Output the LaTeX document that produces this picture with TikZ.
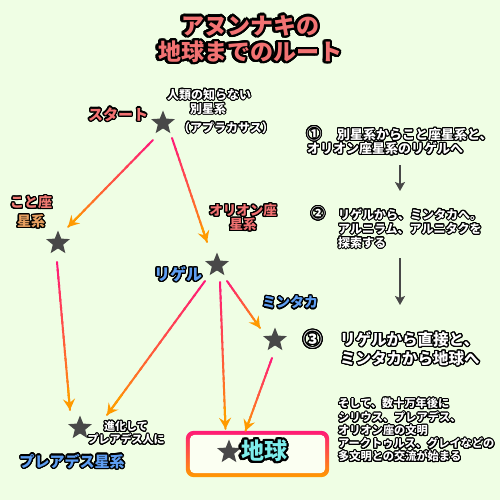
\documentclass[tikz,border=0pt]{standalone}
\usepackage{fontspec}
\setmainfont{Noto Sans CJK JP}
\usepackage{contour}
\contournumber{24}
\usetikzlibrary{shapes.geometric,arrows.meta,calc}
\definecolor{bg}{HTML}{EFFEE4}
\definecolor{apink}{HTML}{FF1A78}
\definecolor{aorange}{HTML}{FF9A00}
\definecolor{starc}{HTML}{484848}
\definecolor{salmon}{HTML}{F27272}
\definecolor{bluel}{HTML}{5E9EF2}
\definecolor{cyanl}{HTML}{7DEDEB}
\definecolor{kotoa}{HTML}{F07A72}
\definecolor{kotob}{HTML}{E8A060}
\definecolor{boxin}{HTML}{FBFFF2}
\newcommand\ol[2][1pt]{{\contourlength{#1}\contour{black}{#2}}}
\tikzset{
  starnode/.style={star, star points=5, star point ratio=2.3, fill=starc, minimum size=25pt, inner sep=0pt},
  lbl/.style={font=\bfseries\fontsize{#1pt}{#1pt}\selectfont, inner sep=0pt},
  wtxt/.style={lbl=#1, text=white},
  gseg/.style={line width=2pt, line cap=round},
  ghead/.style={line width=2pt, draw=aorange, fill=aorange, -{Stealth[length=11pt,width=12pt,inset=4pt]}},
  darr/.style={line width=2pt, draw=starc, -{Stealth[length=9pt,width=10pt,inset=2pt]}}
}
\newcommand\garrow[2]{%
  \foreach \i in {0,...,19}{%
    \pgfmathsetmacro\ta{\i/20}%
    \pgfmathsetmacro\tb{min(1,(\i+1.3)/20)}%
    \pgfmathtruncatemacro\pc{100-\i*5}%
    \draw[gseg, draw=apink!\pc!aorange] ($(#1)!\ta!(#2)$) -- ($(#1)!\tb!(#2)$);%
  }%
  \draw[ghead] ($(#1)!0.85!(#2)$) -- (#2);%
}
\begin{document}
\begin{tikzpicture}[x=1pt,y=-1pt]
\fill[bg] (0,0) rectangle (500,500);
\useasboundingbox (0,0) rectangle (500,500);

% title
\node[lbl=23, text=salmon] (title1) at (250,27) {\ol[2.4pt]{アヌンナキの}};
\node[lbl=23, text=salmon] (title2) at (250,53) {\ol[2.4pt]{地球までのルート}};

% stars
\node[starnode] (S) at (163,123) {};
\node[starnode] (K) at (58,243) {};
\node[starnode] (R) at (217,265) {};
\node[starnode] (M) at (275,340) {};
\node[starnode] (P) at (80,428) {};

% earth box
\node[minimum width=139pt, minimum height=42pt, inner sep=0pt] (earthbox) at (257.5,454) {};
\shade[top color=apink, bottom color=aorange, even odd rule]
  [rounded corners=8pt] ($(earthbox.north west)+(-2,-2)$) rectangle ($(earthbox.south east)+(2,2)$)
  [rounded corners=5pt] ($(earthbox.north west)+(2,2)$) rectangle ($(earthbox.south east)+(-2,-2)$);
\fill[boxin, rounded corners=5pt] ($(earthbox.north west)+(2,2)$) rectangle ($(earthbox.south east)+(-2,-2)$);
\node[starnode] (E) at (229,452) {};
\node[lbl=23, text=cyanl] (earthlbl) at (264,452) {\ol[2.2pt]{地球}};

% labels
\node[lbl=15, text=salmon] (start) at (118,115) {\ol[1.3pt]{スタート}};
\node[wtxt=12] (u1) at (209,95) {\ol{人類の知らない}};
\node[wtxt=12] (u2) at (208,109) {\ol{別星系}};
\node[wtxt=12] (u3) at (226,128) {\ol{（アプラカサス）}};
\node[lbl=14, text=kotoa] (koto1) at (31,203) {\ol[1.2pt]{こと座}};
\node[lbl=14, text=kotob] (koto2) at (31,222) {\ol[1.2pt]{星系}};
\node[lbl=13.5, text=salmon] (ori1) at (243,211) {\ol[1.2pt]{オリオン座}};
\node[lbl=13.5, text=salmon] (ori2) at (243,225) {\ol[1.2pt]{星系}};
\node[lbl=16, text=bluel] (rigel) at (178,275) {\ol[1.3pt]{リゲル}};
\node[lbl=14, text=bluel] (mintaka) at (290,303) {\ol[1.2pt]{ミンタカ}};
\node[wtxt=11] (sh1) at (126,427) {\ol{進化して}};
\node[wtxt=11] (sh2) at (126,440) {\ol{プレアデス人に}};
\node[lbl=15, text=bluel] (plei) at (72,462) {\ol[1.3pt]{プレアデス星系}};

% right column
\node[wtxt=15, anchor=center] (r1n) at (314,134) {\ol{①}};
\node[wtxt=13, anchor=west] (r1a) at (337,135) {\ol{別星系からこと座星系と、}};
\node[wtxt=13, anchor=west] (r1b) at (307,149) {\ol{オリオン座星系のリゲルへ}};
\node[wtxt=14, anchor=center] (r2n) at (318,214) {\ol{②}};
\node[wtxt=12, anchor=west] (r2a) at (338,215) {\ol{リゲルから、ミンタカへ。}};
\node[wtxt=12, anchor=west] (r2b) at (338,229) {\ol{アルニラム、アルニタクを}};
\node[wtxt=12, anchor=west] (r2c) at (338,243) {\ol{探索する}};
\node[wtxt=19, anchor=center] (r3n) at (313,340) {\ol[1.2pt]{③}};
\node[wtxt=15.5, anchor=west] (r3a) at (340,340) {\ol[1.2pt]{リゲルから直接と、}};
\node[wtxt=15.5, anchor=west] (r3b) at (340,359) {\ol[1.2pt]{ミンタカから地球へ}};
\node[wtxt=11.2, anchor=west] (b1) at (338,404) {\ol{そして、数十万年後に}};
\node[wtxt=11.2, anchor=west] (b2) at (338,418) {\ol{シリウス、プレアデス、}};
\node[wtxt=11.2, anchor=west] (b3) at (338,431) {\ol{オリオン座の文明}};
\node[wtxt=11.2, anchor=west] (b4) at (338,444) {\ol{アークトゥルス、グレイなどの}};
\node[wtxt=11.2, anchor=west] (b5) at (338,457) {\ol{多文明との交流が始まる}};

\coordinate (d1s) at (400,165);
\coordinate (d1e) at (400,191);
\coordinate (d2s) at (400,258);
\coordinate (d2e) at (400,305);
\draw[darr] (d1s) -- (d1e);
\draw[darr] (d2s) -- (d2e);

% arrow ends
\coordinate (a1s) at ($(S)+(-10,17)$);
\coordinate (a1e) at ($(K)+(10,-16)$);
\coordinate (a2s) at ($(S)+(9,15)$);
\coordinate (a2e) at ($(R)+(-10,-23)$);
\coordinate (a3s) at ($(K)+(-1,19)$);
\coordinate (a3e) at ($(P)+(-10,-18)$);
\coordinate (a4s) at ($(R)+(-12,16)$);
\coordinate (a4e) at ($(P)+(27,-13)$);
\coordinate (a5s) at ($(R)+(3,17)$);
\coordinate (a5e) at ($(earthbox.north)+(-32,-4)$);
\coordinate (a6s) at ($(R)+(10,16)$);
\coordinate (a6e) at ($(M)+(-15,-12)$);
\coordinate (a7s) at ($(M)+(-3,18)$);
\coordinate (a7e) at ($(earthbox.north)+(-12,-2)$);
\garrow{a1s}{a1e}
\garrow{a2s}{a2e}
\garrow{a3s}{a3e}
\garrow{a4s}{a4e}
\garrow{a5s}{a5e}
\garrow{a6s}{a6e}
\garrow{a7s}{a7e}
\end{tikzpicture}
\end{document}
